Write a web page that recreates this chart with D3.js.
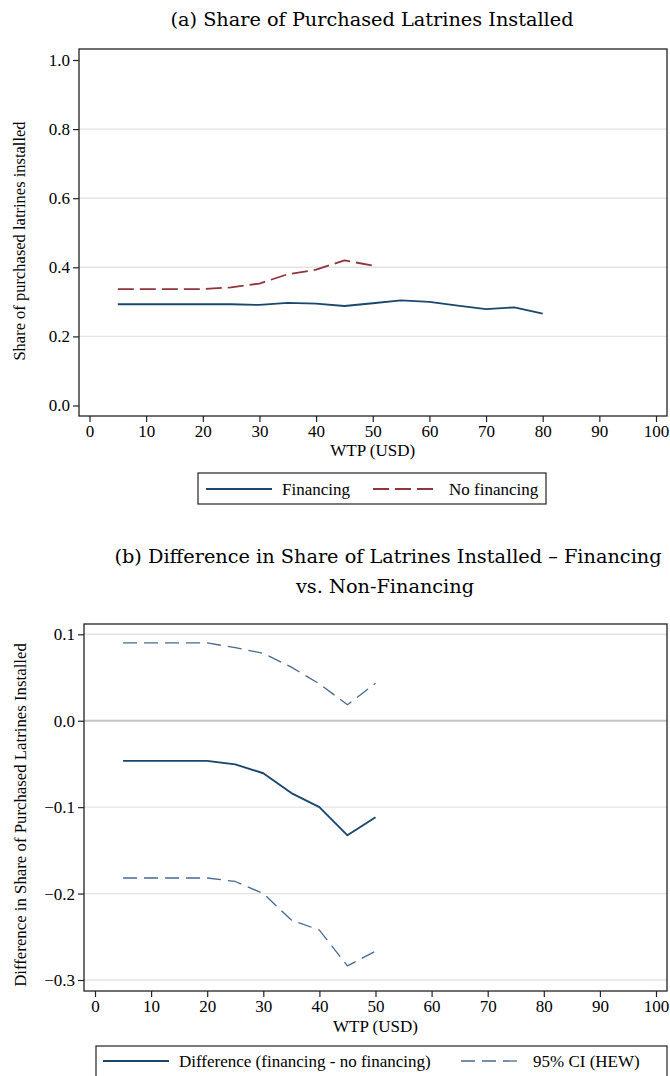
<!DOCTYPE html>
<html>
<head>
<meta charset="utf-8">
<script src="https://cdn.jsdelivr.net/npm/d3@7/dist/d3.min.js"></script>
<style>
  body { margin: 0; background: #fff; }
  svg { display: block; }
</style>
</head>
<body>
<svg id="chart" width="670" height="1076"></svg>
<script>
// WTP grid (USD)
const wtpFin = [5, 10, 15, 20, 25, 30, 35, 40, 45, 50, 55, 60, 65, 70, 75, 80];
const shareFinancing = [0.293, 0.293, 0.293, 0.293, 0.293, 0.291, 0.297, 0.295, 0.288, 0.296, 0.304, 0.300, 0.289, 0.279, 0.284, 0.266];
const wtpNoFin = [5, 10, 15, 20, 25, 30, 35, 40, 45, 50];
const shareNoFinancing = [0.337, 0.337, 0.337, 0.337, 0.342, 0.353, 0.380, 0.393, 0.420, 0.405];

// Difference (financing - no financing) with 95% CI
const wtpDiff = [5, 10, 15, 20, 25, 30, 35, 40, 45, 50];
const diffEst = [-0.0465, -0.0465, -0.0465, -0.0465, -0.0505, -0.0608, -0.0837, -0.100, -0.1326, -0.1116];
const diffUpper = [0.090, 0.090, 0.090, 0.090, 0.0845, 0.078, 0.062, 0.0426, 0.0186, 0.0434];
const diffLower = [-0.182, -0.182, -0.182, -0.182, -0.186, -0.200, -0.2306, -0.2422, -0.2837, -0.2667];

const xTicks = [0, 10, 20, 30, 40, 50, 60, 70, 80, 90, 100];
const yTicksA = [0, 0.2, 0.4, 0.6, 0.8, 1.0];
const yTicksB = [-0.3, -0.2, -0.1, 0, 0.1];

const NAVY = "#1a476f";
const RED = "#90353b";
const CI = "#466a91";
const SERIF = "'Liberation Serif', 'Times New Roman', Times, serif";
const TITLE_SERIF = "'DejaVu Serif', 'Liberation Serif', serif";

const svg = d3.select("#chart").style("font-family", SERIF);

function txt(sel) {
  return sel.style("font-family", SERIF).attr("fill", "#000");
}

function panel(opts) {
  const g = svg.append("g");
  const x = d3.scaleLinear().domain([0, 100]).range(opts.xRange);
  const y = d3.scaleLinear().domain(opts.yDomain).range(opts.yRange);

  // grid lines
  g.selectAll("line.grid").data(opts.grid).join("line")
    .attr("x1", opts.frame[0]).attr("x2", opts.frame[2])
    .attr("y1", d => y(d)).attr("y2", d => y(d))
    .attr("stroke", d => (opts.zeroLine && d === 0) ? "#c4c4c4" : "#e3e3e3")
    .attr("stroke-width", d => (opts.zeroLine && d === 0) ? 2 : 1.4);

  // frame
  g.append("rect")
    .attr("x", opts.frame[0]).attr("y", opts.frame[1])
    .attr("width", opts.frame[2] - opts.frame[0])
    .attr("height", opts.frame[3] - opts.frame[1])
    .attr("fill", "none").attr("stroke", "#222").attr("stroke-width", 1.3);

  // y axis
  const yAxis = d3.axisLeft(y).tickValues(opts.yTicks).tickSize(6).tickPadding(3)
    .tickFormat(d3.format(".1f"));
  const ya = g.append("g").attr("transform", `translate(${opts.frame[0]},0)`).call(yAxis)
    .attr("font-family", null).attr("font-size", null);
  ya.select(".domain").remove();
  ya.selectAll("line").attr("stroke", "#222").attr("stroke-width", 1.2);
  txt(ya.selectAll("text")).style("font-size", "17px");

  // x axis
  const xAxis = d3.axisBottom(x).tickValues(xTicks).tickSize(6).tickPadding(3)
    .tickFormat(d3.format("d"));
  const xa = g.append("g").attr("transform", `translate(0,${opts.frame[3]})`).call(xAxis)
    .attr("font-family", null).attr("font-size", null);
  xa.select(".domain").remove();
  xa.selectAll("line").attr("stroke", "#222").attr("stroke-width", 1.2);
  txt(xa.selectAll("text")).style("font-size", "17px");

  // axis titles
  txt(g.append("text"))
    .attr("x", (x(0) + x(100)) / 2).attr("y", opts.xTitleY)
    .attr("text-anchor", "middle").style("font-size", "17px")
    .text("WTP (USD)");
  txt(g.append("text"))
    .attr("transform", `translate(${opts.yTitleX},${opts.yTitleMid}) rotate(-90)`)
    .attr("text-anchor", "middle").style("font-size", opts.yTitleSize)
    .text(opts.yTitle);

  return { g, x, y };
}

function drawLine(p, xs, ys, color, width, dash) {
  const line = d3.line().x((d, i) => p.x(xs[i])).y(d => p.y(d));
  p.g.append("path").datum(ys)
    .attr("d", line)
    .attr("fill", "none")
    .attr("stroke", color)
    .attr("stroke-width", width)
    .attr("stroke-linejoin", "round")
    .attr("stroke-dasharray", dash || null);
}

function legend(x0, y0, w, h, items) {
  const g = svg.append("g");
  g.append("rect").attr("x", x0).attr("y", y0).attr("width", w).attr("height", h)
    .attr("fill", "#fff").attr("stroke", "#222").attr("stroke-width", 1.2);
  items.forEach(it => {
    g.append("line")
      .attr("x1", it.x).attr("x2", it.x + it.len)
      .attr("y1", y0 + it.dy).attr("y2", y0 + it.dy)
      .attr("stroke", it.color).attr("stroke-width", it.width)
      .attr("stroke-dasharray", it.dash || null);
    txt(g.append("text")).attr("x", it.x + it.len + 10).attr("y", y0 + it.dy + 6)
      .style("font-size", "17px").text(it.label);
  });
}

function title(x, y, s) {
  svg.append("text").attr("x", x).attr("y", y).attr("text-anchor", "middle")
    .style("font-family", TITLE_SERIF).style("font-size", "19.3px").attr("fill", "#000").text(s);
}

// ---- Panel (a) ----
title(372, 26, "(a) Share of Purchased Latrines Installed");

const pa = panel({
  xRange: [89.5, 656],
  yDomain: [0, 1], yRange: [405.5, 60],
  frame: [79, 49, 667, 416],
  yTicks: yTicksA, grid: [0.2, 0.4, 0.6, 0.8],
  xTitleY: 456, yTitleX: 25, yTitleMid: 241, yTitleSize: "16.5px",
  yTitle: "Share of purchased latrines installed"
});
drawLine(pa, wtpFin, shareFinancing, NAVY, 1.8);
drawLine(pa, wtpNoFin, shareNoFinancing, RED, 1.8, "16,6");

legend(198, 473, 348, 31, [
  { x: 206, len: 66, dy: 16, color: NAVY, width: 1.8, label: "Financing" },
  { x: 373, len: 66, dy: 16, color: RED, width: 1.8, dash: "16,6", label: "No financing" }
]);

// ---- Panel (b) ----
title(388, 563, "(b) Difference in Share of Latrines Installed \u2013 Financing");
title(385, 593, "vs. Non-Financing");

const pb = panel({
  xRange: [95, 656],
  yDomain: [-0.3, 0.1], yRange: [980, 634.3],
  frame: [84, 624, 667, 991],
  yTicks: yTicksB, grid: [-0.3, -0.2, -0.1, 0, 0.1], zeroLine: true,
  xTitleY: 1032, yTitleX: 26, yTitleMid: 815, yTitleSize: "16.8px",
  yTitle: "Difference in Share of Purchased Latrines Installed"
});
drawLine(pb, wtpDiff, diffUpper, CI, 1.3, "14,7");
drawLine(pb, wtpDiff, diffLower, CI, 1.3, "14,7");
drawLine(pb, wtpDiff, diffEst, NAVY, 1.9);

legend(96, 1046, 571, 40, [
  { x: 103, len: 66, dy: 15, color: NAVY, width: 1.9, label: "Difference (financing - no financing)" },
  { x: 461, len: 62, dy: 15, color: CI, width: 1.3, dash: "14,7", label: "95% CI (HEW)" }
]);
</script>
</body>
</html>
